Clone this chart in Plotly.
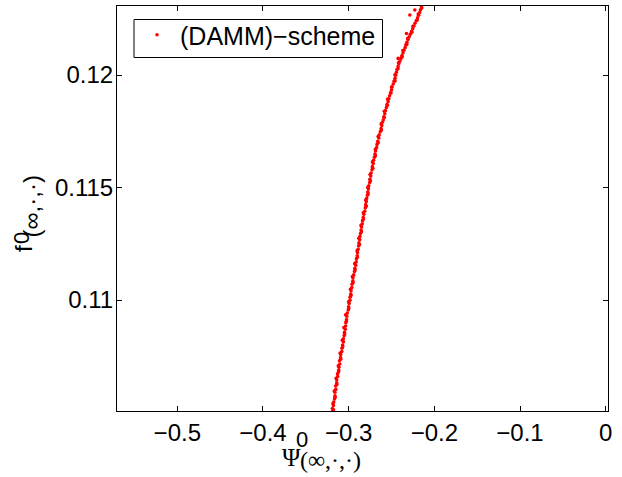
import plotly.graph_objects as go

# (DAMM)-scheme points
psi_vals = [
    -0.3192, -0.3185, -0.3190, -0.3178, -0.3174, -0.3165, -0.3160, -0.3161, -0.3150, -0.3152, -0.3140,
    -0.3139, -0.3128, -0.3130, -0.3116, -0.3114, -0.3104, -0.3107,
    -0.3094, -0.3093, -0.3080, -0.3078, -0.3071, -0.3061,
    -0.3062, -0.3052, -0.3049, -0.3040, -0.3036, -0.3033, -0.3025, -0.3022,
    -0.3016, -0.3005, -0.3001, -0.2994, -0.2985,
    -0.2984, -0.2976, -0.2972, -0.2963, -0.2961, -0.2951, -0.2950,
    -0.2941, -0.2932, -0.2928, -0.2917, -0.2912, -0.2909,
    -0.2900, -0.2897, -0.2889, -0.2884, -0.2880, -0.2871, -0.2869,
    -0.2862, -0.2855, -0.2850, -0.2841, -0.2838, -0.2830,
    -0.2823, -0.2812, -0.2806, -0.2801, -0.2794,
    -0.2790, -0.2781, -0.2777, -0.2770, -0.2765, -0.2755,
    -0.2753, -0.2742, -0.2738, -0.2727, -0.2724, -0.2713,
    -0.2709, -0.2699, -0.2693, -0.2686, -0.2674,
    -0.2669, -0.2660, -0.2648, -0.2644,
    -0.2631, -0.2621, -0.2613, -0.2607, -0.2596,
    -0.2590, -0.2578, -0.2571, -0.2560,
    -0.2553, -0.2540, -0.2531, -0.2522,
    -0.2512, -0.2500, -0.2493, -0.2480, -0.2470,
    -0.2459, -0.2451, -0.2443, -0.2436, -0.2423,
    -0.2414, -0.2401, -0.2390, -0.2379, -0.2366,
    -0.2355, -0.2341, -0.2333, -0.2320, -0.2307,
    -0.2293, -0.2280, -0.2265, -0.2252,
    -0.2238, -0.2226, -0.2210, -0.2196,
    -0.2183, -0.2171, -0.2162, -0.2150, -0.2139, -0.2128,
    -0.2228, -0.2325, -0.2423, -0.2286,
    -0.3178, -0.3183, -0.3158, -0.3168, -0.3137, -0.3146, -0.3118, -0.3121,
    -0.3093, -0.3100, -0.3069, -0.3074, -0.3047, -0.3056, -0.3027, -0.3036,
    -0.2999, -0.3001, -0.2972, -0.2979, -0.2949, -0.2956, -0.2925, -0.2929,
    -0.2898, -0.2902, -0.2874, -0.2882, -0.2851, -0.2856, -0.2827, -0.2829,
    -0.2795, -0.2801, -0.2772, -0.2777, -0.2746, -0.2750, -0.2718, -0.2722,
    -0.2688, -0.2687, -0.2656, -0.2656, -0.2619, -0.2620, -0.2584, -0.2584,
    -0.2547, -0.2545, -0.2506, -0.2500, -0.2459, -0.2460, -0.2424, -0.2418,
    -0.2375, -0.2367, -0.2322, -0.2311, -0.2263, -0.2250, -0.2201, -0.2188,
    -0.2147,
]
f_vals = [
    0.10490, 0.10505, 0.10518, 0.10532, 0.10547, 0.10560, 0.10575, 0.10590, 0.10603, 0.10618, 0.10632,
    0.10645, 0.10660, 0.10672, 0.10688, 0.10701, 0.10716, 0.10730,
    0.10744, 0.10758, 0.10771, 0.10786, 0.10800, 0.10814,
    0.10828, 0.10842, 0.10857, 0.10870, 0.10885, 0.10899, 0.10913, 0.10928,
    0.10942, 0.10956, 0.10970, 0.10985, 0.10999,
    0.11013, 0.11027, 0.11041, 0.11056, 0.11070, 0.11084, 0.11098,
    0.11112, 0.11127, 0.11141, 0.11155, 0.11169, 0.11183,
    0.11197, 0.11211, 0.11226, 0.11240, 0.11254, 0.11268, 0.11282,
    0.11296, 0.11311, 0.11325, 0.11339, 0.11353, 0.11367,
    0.11381, 0.11395, 0.11409, 0.11424, 0.11438,
    0.11452, 0.11466, 0.11480, 0.11494, 0.11508, 0.11522,
    0.11537, 0.11551, 0.11565, 0.11579, 0.11593, 0.11607,
    0.11621, 0.11635, 0.11649, 0.11663, 0.11678,
    0.11692, 0.11706, 0.11720, 0.11734,
    0.11748, 0.11762, 0.11776, 0.11790, 0.11800,
    0.11814, 0.11828, 0.11842, 0.11856,
    0.11869, 0.11882, 0.11895, 0.11908,
    0.11921, 0.11934, 0.11947, 0.11960, 0.11973,
    0.11986, 0.11999, 0.12012, 0.12025, 0.12038,
    0.12050, 0.12062, 0.12074, 0.12086, 0.12098,
    0.12110, 0.12122, 0.12134, 0.12146, 0.12158,
    0.12170, 0.12182, 0.12194, 0.12206,
    0.12218, 0.12230, 0.12242, 0.12254,
    0.12266, 0.12278, 0.12290, 0.12302, 0.12314, 0.12326,
    0.12289, 0.12185, 0.12074, 0.12267,
    0.10512, 0.10540, 0.10568, 0.10596, 0.10625, 0.10652, 0.10680, 0.10708,
    0.10737, 0.10765, 0.10793, 0.10821, 0.10849, 0.10878, 0.10906, 0.10935,
    0.10963, 0.10992, 0.11020, 0.11048, 0.11077, 0.11105, 0.11134, 0.11162,
    0.11190, 0.11219, 0.11247, 0.11275, 0.11304, 0.11332, 0.11360, 0.11388,
    0.11417, 0.11445, 0.11473, 0.11501, 0.11530, 0.11558, 0.11586, 0.11614,
    0.11642, 0.11670, 0.11699, 0.11727, 0.11755, 0.11783, 0.11811, 0.11839,
    0.11866, 0.11893, 0.11920, 0.11947, 0.11974, 0.12001, 0.12028, 0.12055,
    0.12082, 0.12109, 0.12136, 0.12163, 0.12190, 0.12217, 0.12244, 0.12271,
    0.12298,
]

x_range = [-0.5704, 0.0027]
y_range = [0.10507, 0.12307]
series_name = "(DAMM)\u2212scheme"

SANS = "Liberation Sans, Arial, Helvetica, sans-serif"
SERIF = "Liberation Serif, Times New Roman, serif"

fig = go.Figure()
fig.add_trace(go.Scatter(
    x=psi_vals, y=f_vals, mode="markers", name=series_name,
    marker=dict(color="#ff0000", size=3.6, line=dict(width=0)),
))

axis_common = dict(
    showline=True, linecolor="black", linewidth=1, mirror="ticks",
    ticks="inside", ticklen=5, tickwidth=1, tickcolor="black",
    showgrid=False, zeroline=False,
    tickfont=dict(family=SANS, size=24, color="black"),
)
fig.update_xaxes(range=x_range, dtick=0.1, tick0=0, **axis_common)
fig.update_yaxes(range=y_range, dtick=0.005, tick0=0, ticklabelstandoff=-2, **axis_common)

W, H = 622, 477
L, R, T, B = 117, 14, 6, 66
pw, ph = W - L - R, H - T - B

def px(xp):
    return (xp - L) / pw

def py(yp):
    return (H - B - yp) / ph

annots = [
    # x label: Psi^0_(inf,.,.)
    dict(text="\u03A8", x=px(291), y=py(457), font=dict(family=SERIF, size=25)),
    dict(text="0", x=px(302), y=py(440), font=dict(family=SANS, size=22)),
    dict(text="(\u221E,\u00B7,\u00B7)", x=px(330), y=py(460), font=dict(family=SERIF, size=24)),
    # y label: f^0_(inf,.,.)
    dict(text="f", x=px(23), y=py(249), font=dict(family=SANS, size=24), textangle=-90),
    dict(text="0", x=px(21), y=py(238), font=dict(family=SANS, size=22), textangle=-90),
    dict(text="(\u221E,\u00B7,\u00B7)", x=px(30.5), y=py(207), font=dict(family=SANS, size=24), textangle=-90),
]
for a in annots:
    a.update(xref="paper", yref="paper", xanchor="center", yanchor="middle",
             showarrow=False)
    a["font"]["color"] = "black"

# legend frame
shapes = [dict(type="rect", xref="paper", yref="paper",
               x0=px(134), x1=px(382.5), y0=py(57.5), y1=py(19.5),
               line=dict(color="black", width=1), fillcolor="white", layer="above")]

fig.update_layout(
    width=W, height=H,
    margin=dict(l=L, r=R, t=T, b=B, pad=0),
    paper_bgcolor="white", plot_bgcolor="white",
    showlegend=True,
    legend=dict(
        x=px(134), y=py(12), xanchor="left", yanchor="top",
        bgcolor="rgba(0,0,0,0)", borderwidth=0,
        font=dict(family=SANS, size=25, color="black"),
        itemwidth=36,
    ),
    annotations=annots,
    shapes=shapes,
)

fig.write_html("out.html", config={"displayModeBar": False},
               post_script="document.body.style.margin='0px';")
